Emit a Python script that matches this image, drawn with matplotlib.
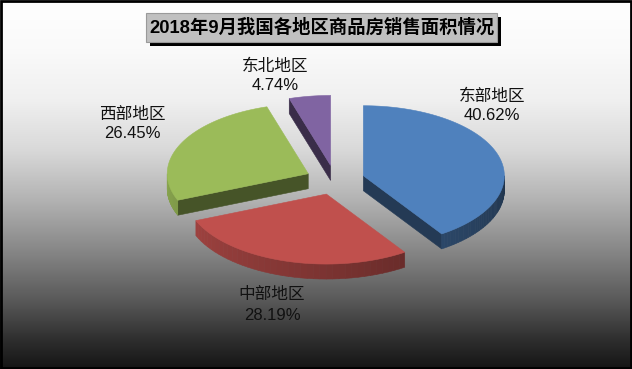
import numpy as np
import matplotlib
matplotlib.use('Agg')
import matplotlib.pyplot as plt
from matplotlib.patches import Polygon, Rectangle
from matplotlib.colors import to_rgb

plt.rcParams['font.family'] = ['Liberation Sans', 'Noto Sans CJK SC']

# ── data ────────────────────────────────────────────
TITLE = '2018年9月我国各地区商品房销售面积情况'
regions = ['东部地区', '中部地区', '西部地区', '东北地区']
shares = [40.62, 28.19, 26.45, 4.74]          # %
top_colors = ['#4F81BD', '#C0504D', '#9BBB59', '#8064A2']

# ── layout (pixels, y down) ─────────────────────────
W, H = 632, 369
CX, CY = 335, 180        # pie centre
RX, RY = 141, 70         # ellipse radii of the tilted pie
DEPTH = 15               # slice thickness
EXPLODE = 0.21
LABEL_XY = [(492, 106), (272, 305), (132, 124), (275, 76)]

# background gradient stops (y, grey level)
BG_Y = [0, 50, 100, 150, 200, 250, 300, 340, 369]
BG_G = [1.0, 0.98, 0.94, 0.85, 0.70, 0.53, 0.35, 0.18, 0.08]

fig = plt.figure(figsize=(W / 100, H / 100), dpi=100)
ax = fig.add_axes([0, 0, 1, 1])
ax.set_xlim(0, W)
ax.set_ylim(H, 0)
ax.axis('off')

g = np.interp(np.arange(H) + 0.5, BG_Y, BG_G)
bg = np.repeat(g[:, None, None], 3, axis=2)
ax.imshow(bg, extent=(0, W, H, 0), aspect='auto', zorder=0)


def pt(cx, cy, t, dy=0.0):
    r = np.radians(t)
    return cx + RX * np.sin(r), cy - RY * np.cos(r) + dy


def shade(col, f):
    return tuple(np.clip(np.array(to_rgb(col)) * f, 0, 1))


def add_poly(pts, col, z):
    ax.add_patch(Polygon(pts, closed=True, facecolor=col, edgecolor=col,
                         lw=0.4, zorder=z))


start = 0.0
for i, (share, col) in enumerate(zip(shares, top_colors)):
    t1, t2 = start, start + share * 3.6
    start = t2
    mid = np.radians((t1 + t2) / 2)
    cx = CX + EXPLODE * RX * np.sin(mid)
    cy = CY - EXPLODE * RY * np.cos(mid)
    z = 2 + cy / 100.0

    # radial faces (visible when their normal points toward the viewer)
    for t, nt in ((t1, t1 - 90), (t2, t2 + 90)):
        if -np.cos(np.radians(nt)) > 0.05:
            ex, ey = pt(cx, cy, t)
            add_poly([(cx, cy), (ex, ey), (ex, ey + DEPTH), (cx, cy + DEPTH)],
                     shade(col, 0.45), z)

    # outer curved face, front half only
    a, b = max(t1, 90), min(t2, 270)
    if b > a:
        ts = np.linspace(a, b, 40)
        for k in range(len(ts) - 1):
            p0 = pt(cx, cy, ts[k])
            p1 = pt(cx, cy, ts[k + 1])
            f = 0.4 + 0.48 * ((ts[k] + ts[k + 1]) / 2 - 90) / 180
            add_poly([p0, p1, (p1[0], p1[1] + DEPTH), (p0[0], p0[1] + DEPTH)],
                     shade(col, f), z)

    # top face
    ts = np.linspace(t1, t2, 120)
    arc = [pt(cx, cy, t) for t in ts]
    add_poly([(cx, cy)] + arc, col, z + 0.01)

    lx, ly = LABEL_XY[i]
    ax.text(lx, ly - 10, regions[i], ha='center', va='center',
            fontsize=12, color='#111111', zorder=10)
    ax.text(lx, ly + 10, f'{share:.2f}%', ha='center', va='center',
            fontsize=12, color='#111111', zorder=10)

# title box with shadow
ax.add_patch(Rectangle((150, 17), 351, 29, facecolor='black', zorder=11))
ax.add_patch(Rectangle((146, 13), 351, 29, facecolor='#C0C0C0',
                       edgecolor='#9a9a9a', lw=0.8, zorder=12))
ax.text(321.5, 28, TITLE, ha='center', va='center', fontsize=13.2,
        fontweight='bold', color='black', zorder=13)

# outer border
ax.add_patch(Rectangle((0.5, 0.5), W - 1.5, H - 1.5, fill=False,
                       edgecolor='black', lw=2, zorder=20))

fig.savefig('out.png', dpi=100)
